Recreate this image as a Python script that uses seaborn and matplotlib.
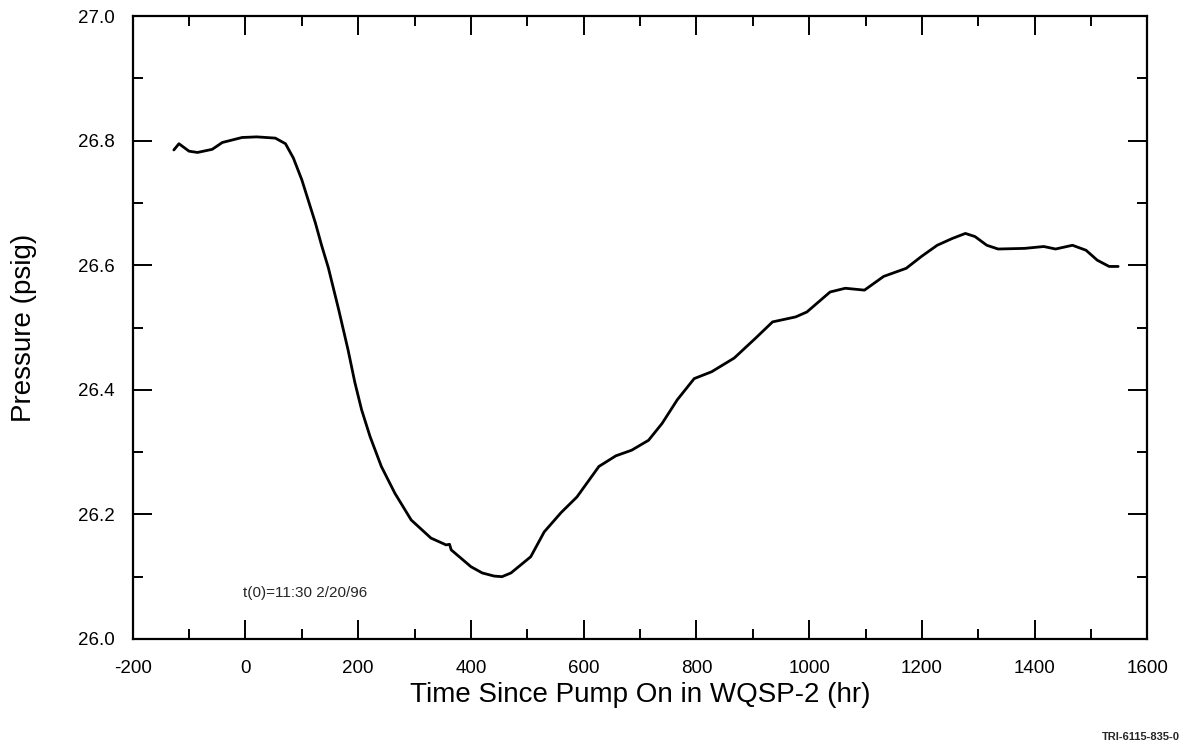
import pandas as pd
import matplotlib
matplotlib.use('Agg')
import matplotlib.pyplot as plt
from matplotlib.ticker import MultipleLocator, FormatStrFormatter
import seaborn as sns

# values (hours since pump on, pressure in psig)
hours = [-127, -118, -100, -85, -59, -41, -6, 20, 53, 71, 85, 100, 124, 135,
         147, 165, 182, 194, 206, 221, 241, 265, 294, 329, 356, 362, 365, 400,
         420, 441, 455, 471, 506, 530, 560, 588, 627, 657, 685, 715, 739, 766,
         796, 827, 867, 905, 935, 976, 996, 1037, 1064, 1098, 1132, 1172, 1199,
         1227, 1254, 1277, 1294, 1315, 1335, 1382, 1416, 1437, 1467, 1491,
         1511, 1532, 1548]
pressure = [26.785, 26.795, 26.783, 26.781, 26.786, 26.797, 26.805, 26.806,
            26.804, 26.795, 26.772, 26.737, 26.668, 26.632, 26.596, 26.530,
            26.464, 26.412, 26.368, 26.325, 26.277, 26.234, 26.191, 26.162,
            26.151, 26.152, 26.143, 26.116, 26.106, 26.101, 26.100, 26.106,
            26.132, 26.172, 26.203, 26.228, 26.277, 26.294, 26.303, 26.319,
            26.346, 26.384, 26.418, 26.429, 26.451, 26.483, 26.509, 26.517,
            26.525, 26.557, 26.563, 26.560, 26.582, 26.595, 26.614, 26.632,
            26.643, 26.651, 26.646, 26.632, 26.626, 26.627, 26.630, 26.626,
            26.632, 26.624, 26.608, 26.598, 26.598]

df = pd.DataFrame({'hours': hours, 'pressure': pressure})

sns.set_theme(style='ticks')
plt.rcParams['font.family'] = ['Liberation Sans', 'DejaVu Sans']
plt.rcParams['axes.unicode_minus'] = False

fig = plt.figure(figsize=(11.87, 7.45), dpi=100)
ax = fig.add_axes([0.1118, 0.1423, 0.8549, 0.8362])

sns.lineplot(data=df, x='hours', y='pressure', color='black', linewidth=2.0,
             estimator=None, ax=ax)

ax.set_xlim(-200, 1600)
ax.set_ylim(26.0, 27.0)
ax.xaxis.set_major_locator(MultipleLocator(200))
ax.xaxis.set_minor_locator(MultipleLocator(100))
ax.yaxis.set_major_locator(MultipleLocator(0.2))
ax.yaxis.set_minor_locator(MultipleLocator(0.1))
ax.yaxis.set_major_formatter(FormatStrFormatter('%.1f'))

ax.tick_params(which='both', direction='in', top=True, right=True,
               color='black', labelsize=13.5, labelcolor='black')
ax.tick_params(which='major', length=14, width=1.4)
ax.tick_params(which='minor', length=7, width=1.4)
ax.tick_params(axis='x', which='major', pad=15)
ax.tick_params(axis='y', which='major', pad=13)
for s in ax.spines.values():
    s.set_visible(True)
    s.set_linewidth(1.6)
    s.set_color('black')

ax.set_xlabel('Time Since Pump On in WQSP-2 (hr)', fontsize=20, color='black')
ax.set_ylabel('Pressure (psig)', fontsize=20, color='black')
ax.xaxis.set_label_coords(0.5, -0.09)
ax.xaxis.label.set_va('center')
ax.yaxis.set_label_coords(-0.107, 0.5)
ax.yaxis.label.set_va('center')

ax.text(-5, 26.074, 't(0)=11:30 2/20/96', fontsize=11, ha='left', va='center')
fig.text(1180 / 1187, 1 - 737 / 745, 'TRI-6115-835-0', fontsize=8,
         fontweight='bold', ha='right', va='center')

fig.savefig('out.png', dpi=100)
